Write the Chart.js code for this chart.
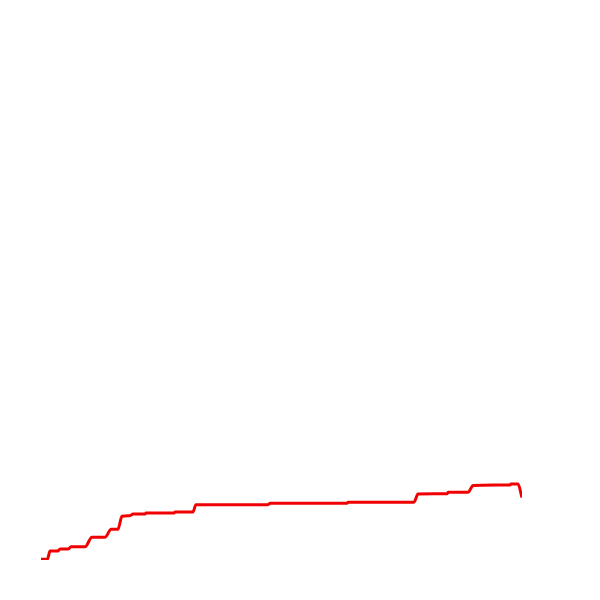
<!DOCTYPE html>
<html>
<head>
<meta charset="utf-8">
<script src="https://cdn.jsdelivr.net/npm/chart.js@4"></script>
<style>
    html, body { margin: 0; padding: 0; background: #ffffff; }
    #wrap { width: 600px; height: 600px; }
</style>
</head>
<body>
<div id="wrap"><canvas id="lineChart"></canvas></div>
<script>
// days since start
const days = [0, 3.2, 4.5, 8.5, 9.5, 13.5, 15, 22, 25.4, 32, 35, 38.4, 40.4, 44.4, 45.9, 51.9,
    52.4, 66.4, 66.9, 75.8, 77.3, 113.3, 114.3, 152.7, 153.2, 186.1, 188.1, 202.6, 203.1,
    213.1, 215.6, 234.0, 234.5, 238.0, 240];

// running total
const totals = [0.25, 0.25, 3.3, 3.3, 4.0, 4.0, 4.8, 4.8, 8.3, 8.3, 11.2, 11.2, 15.9, 16.1, 16.7, 16.7,
    17.1, 17.1, 17.5, 17.5, 20.1, 20.1, 20.6, 20.6, 21.0, 21.0, 24.0, 24.1, 24.6,
    24.6, 27.1, 27.3, 27.6, 27.6, 22.7];

const points = days.map((d, i) => ({ x: d, y: totals[i] }));

new Chart(document.getElementById("lineChart"), {
    type: 'line',
    data: {
        datasets: [{
            label: "Total",
            data: points,
            borderColor: '#f00000',
            borderWidth: 3,
            pointRadius: 0,
            fill: false,
            cubicInterpolationMode: 'monotone',
            borderJoinStyle: 'round'
        }]
    },
    options: {
        responsive: true,
        maintainAspectRatio: false,
        animation: false,
        layout: { padding: { left: 41, right: 78, top: 10, bottom: 40 } },
        plugins: {
            legend: { display: false },
            tooltip: { enabled: false }
        },
        scales: {
            x: { type: 'linear', min: 0, max: 240, display: false },
            y: { min: 0, max: 200, display: false }
        }
    }
});
</script>
</body>
</html>
